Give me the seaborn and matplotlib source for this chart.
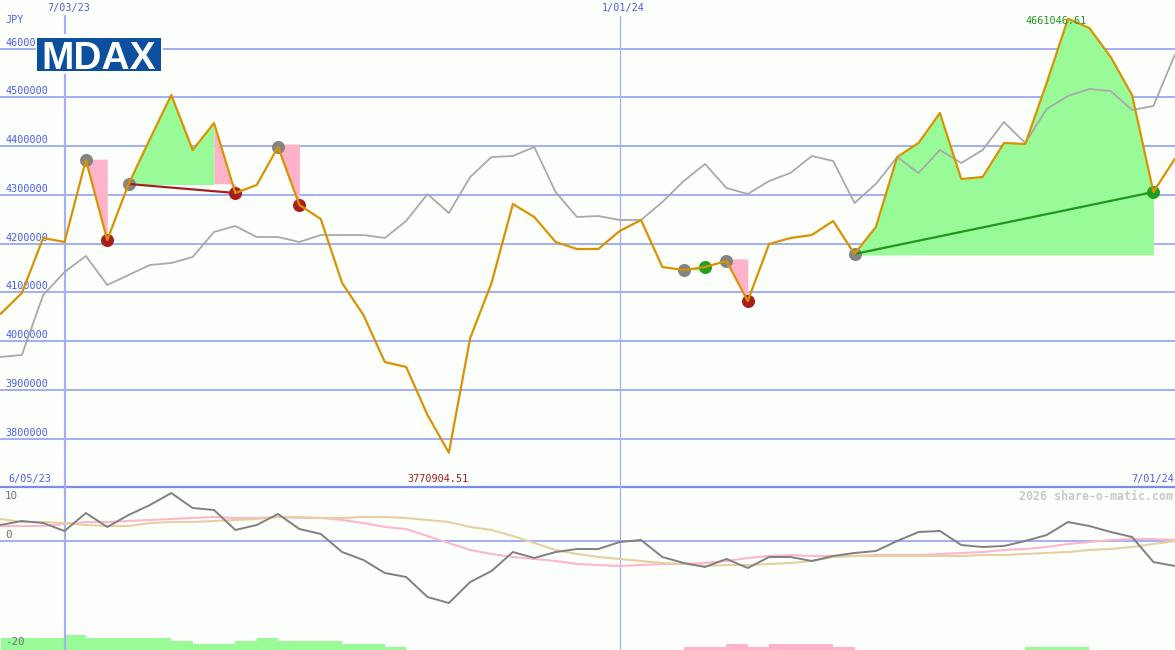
import matplotlib
matplotlib.use("Agg")
import matplotlib.pyplot as plt
import numpy as np
import seaborn as sns

sns.set_style("white")

# weekly closes, in thousands (week 0 is the left edge of the chart)
price = [4055.4, 4098.5, 4211.3, 4203.1, 4371.3, 4207.2, 4322.1, 4414.4, 4504.6, 4391.8,
         4447.2, 4303.6, 4320.0, 4398.0, 4279.0, 4250.3, 4119.0, 4053.3, 3956.9, 3946.7,
         3848.2, 3770.9, 4006.2, 4119.0, 4281.0, 4254.4, 4203.1, 4188.7, 4188.7, 4225.6,
         4248.2, 4151.8, 4145.6, 4151.8, 4164.1, 4082.1, 4199.0, 4211.3, 4217.4, 4246.2,
         4178.5, 4233.8, 4377.4, 4406.2, 4467.7, 4332.3, 4336.4, 4406.2, 4404.1, 4529.2,
         4661.05, 4642.1, 4582.6, 4504.6, 4305.6, 4373.3]
compare = [3967.2, 3971.3, 4094.4, 4141.5, 4174.4, 4114.9, 4135.4, 4155.9, 4160.0, 4172.3,
           4223.6, 4235.9, 4213.3, 4213.3, 4203.1, 4217.4, 4217.4, 4217.4, 4211.3, 4246.2,
           4301.5, 4262.6, 4336.4, 4377.4, 4379.5, 4398.0, 4305.6, 4254.4, 4256.4, 4248.2,
           4248.2, 4285.1, 4328.2, 4363.1, 4313.9, 4301.5, 4328.2, 4344.6, 4379.5, 4369.2,
           4283.1, 4322.1, 4377.4, 4344.6, 4391.8, 4365.1, 4391.8, 4449.2, 4406.2, 4475.9,
           4502.6, 4516.9, 4512.8, 4473.9, 4482.1, 4586.7]

# lower panel
momentum = [2.99, 3.74, 3.36, 1.87, 5.23, 2.62, 4.86, 6.73, 8.97, 6.17,
            5.79, 2.06, 2.99, 5.05, 2.24, 1.31, -2.06, -3.55, -5.98, -6.73,
            -10.47, -11.59, -7.66, -5.61, -2.06, -3.18, -2.06, -1.5, -1.5, -0.19,
            0.19, -2.99, -4.11, -4.86, -3.36, -5.05, -2.99, -2.99, -3.74, -2.80,
            -2.24, -1.87, 0.0, 1.68, 1.87, -0.75, -1.12, -0.93, 0.0, 1.12,
            3.55, 2.80, 1.68, 0.75, -3.93, -4.67]
avg_fast = [2.80, 2.80, 2.80, 3.18, 3.55, 3.55, 3.74, 3.93, 4.11, 4.30,
            4.49, 4.30, 4.30, 4.49, 4.30, 4.30, 3.93, 3.36, 2.62, 2.24,
            0.93, -0.37, -1.68, -2.43, -2.99, -3.36, -3.74, -4.30, -4.49, -4.67,
            -4.49, -4.30, -4.30, -4.11, -3.74, -3.18, -2.80, -2.62, -2.80, -2.80,
            -2.80, -2.62, -2.62, -2.62, -2.43, -2.24, -2.06, -1.68, -1.50, -1.12,
            -0.56, -0.19, 0.19, 0.37, 0.37, 0.19]
avg_slow = [4.11, 3.55, 3.55, 3.36, 2.99, 2.80, 2.80, 3.36, 3.55, 3.55,
            3.74, 3.93, 4.11, 4.49, 4.49, 4.30, 4.30, 4.49, 4.49, 4.30,
            3.93, 3.55, 2.62, 2.06, 0.93, -0.37, -1.68, -2.43, -2.99, -3.36,
            -3.74, -4.11, -4.30, -4.67, -4.49, -4.49, -4.30, -4.11, -3.74, -2.99,
            -2.80, -2.80, -2.80, -2.80, -2.80, -2.80, -2.62, -2.62, -2.43, -2.24,
            -2.06, -1.68, -1.50, -1.12, -0.56, 0.0]
strength = [4, 4, 4, 5, 4, 4, 4, 4, 3, 2, 2, 3, 4, 3, 3, 3, 2, 2, 1, 0,
            0, 0, 0, 0, 0, 0, 0, 0, 0, 0, 0, 0, -1, -1, -2, -1, -2, -2, -2, -1,
            0, 0, 0, 0, 0, 0, 0, 0, 1, 1, 1, 0, 0, 0, 0, 0]

weeks = np.arange(len(price))

price_ticks = [4600, 4500, 4400, 4300, 4200, 4100, 4000, 3900, 3800]
# the top label runs under the logo, only its first digits show
price_labels = ["46000", "4500000", "4400000", "4300000", "4200000",
                "4100000", "4000000", "3900000", "3800000"]
low_ticks = [10, 0, -20]

# (first week, last week, base level) of each shaded move
green_zones = [(6, 10, 4321.0), (32, 33, 4145.6), (40, 54, 4176.5)]
pink_zones = [(4, 5, 4373.0), (10, 11, 4322.5), (13, 14, 4404.0), (34, 35, 4168.5)]
trend_lines = [(6, 11, "#a32020"), (40, 54, "#1f961f")]

start_markers = [4, 6, 13, 32, 34, 40]
loss_markers = [5, 11, 14, 35]
gain_markers = [33, 54]

BG = "#fdfffd"
GRID = "#a3b1f2"
BLUE = "#4a5cf0"
W, H = 1175, 650
SPLIT = 489
mono = "DejaVu Sans Mono"

fig = plt.figure(figsize=(W / 100, H / 100), facecolor=BG)
ax = fig.add_axes([0, 1 - SPLIT / H, 1, SPLIT / H], facecolor=BG)
low = fig.add_axes([0, 0, 1, 1 - SPLIT / H], facecolor=BG)

x_lim = (-0.5 / 21.35, 1174.5 / 21.35)
ax.set_xlim(x_lim)
ax.set_ylim(4699.5 - SPLIT * 2.0513, 4699.5)
low.set_xlim(x_lim)
low.set_ylim((541 - H) / 5.35, (541 - SPLIT) / 5.35)

# signal blocks along the bottom edge, behind everything in the lower panel
hist = low.twinx()
hist.set_ylim(0, H - SPLIT)
hist.bar(weeks, np.abs(strength) * 3, width=1, align="edge",
         color=["#98fb98" if s > 0 else "#ffb3cb" for s in strength], linewidth=0)
hist.set_zorder(0)
low.set_zorder(1)
low.patch.set_visible(False)
hist.patch.set_facecolor(BG)

for a in (ax, low, hist):
    a.set_xticks([])
    a.set_yticks([])
    for s in a.spines.values():
        s.set_visible(False)

for t, txt in zip(price_ticks, price_labels):
    ax.axhline(t, color=GRID, lw=1.45, zorder=1)
    ax.annotate(txt, (5, t), xycoords=("figure pixels", "data"), xytext=(0, 4.3),
                textcoords="offset points", va="center", ha="left", color=BLUE,
                family=mono, fontsize=7.3, zorder=2)
ax.axhline(3700, color="#7a8cf0", lw=1.6, zorder=1)
low.axhline(0, color=GRID, lw=1.45, zorder=1)

# week lines stop short of the date labels at the top
top_gap = 1 - 16 / SPLIT
ax.axvline(3, ymax=top_gap, color=GRID, lw=1.6, zorder=1)
ax.axvline(29, ymax=top_gap, color=GRID, lw=0.9, zorder=1)
low.axvline(3, color=GRID, lw=1.6, zorder=1)
low.axvline(29, color=GRID, lw=0.9, zorder=1)

for first, last, base in green_zones:
    span = weeks[first:last + 1]
    ax.fill_between(span, price[first:last + 1], base, color="#98fb98", lw=0, zorder=2)
for first, last, base in pink_zones:
    span = weeks[first:last + 1]
    ax.fill_between(span, price[first:last + 1], base, color="#ffb3cb", lw=0, zorder=2)

sns.lineplot(x=weeks, y=compare, ax=ax, color="#a9a9a9", linewidth=1.3, zorder=3)

for idx, col in [(start_markers, "#848484"), (loss_markers, "#a81e1e"), (gain_markers, "#22a022")]:
    sns.scatterplot(x=weeks[idx], y=np.array(price)[idx], ax=ax, color=col, s=88,
                    linewidth=0, zorder=4, legend=False)

for first, last, col in trend_lines:
    sns.lineplot(x=[first, last], y=[price[first], price[last]], ax=ax, color=col,
                 linewidth=1.6, zorder=5)

sns.lineplot(x=weeks, y=price, ax=ax, color="#d99300", linewidth=1.6, zorder=6)

sns.lineplot(x=weeks, y=avg_fast, ax=low, color="#ffb6cc", linewidth=1.5, zorder=3)
sns.lineplot(x=weeks, y=avg_slow, ax=low, color="#e6cfa0", linewidth=1.5, zorder=4)
sns.lineplot(x=weeks, y=momentum, ax=low, color="#808080", linewidth=1.4, zorder=5)

for a in (ax, low):
    a.set_xlabel("")
    a.set_ylabel("")
    a.set_xticks([])
    a.set_yticks([])


def label(x, y, text, color=BLUE, size=7.3, weight="normal"):
    fig.text(x / W, 1 - y / H, text, color=color, family=mono, fontsize=size,
             va="center", ha="left", weight=weight, zorder=10)


label(5, 20, "JPY")
label(47, 8, "7/03/23")
label(602, 8, "1/01/24")
label(8, 479, "6/05/23")
label(1131, 479, "7/01/24")
label(407, 479, "3770904.51", color="#a81e1e")
label(1026, 21, "4661046.61", color="#1f961f")
label(1019, 496, "2026 share-o-matic.com", color="#c8c8c8", size=8.4, weight="bold")
for t, y in zip(low_ticks, [496, 535, 642]):
    label(5, y, str(t), color="#707070", size=7.8)

# index logo breaks the gridline and the week line behind it
halo = fig.add_axes([36 / W, 1 - 74 / H, 127 / W, 40 / H], facecolor=BG, zorder=20)
halo.axis("off")
halo.add_patch(plt.Rectangle((0, 0), 1, 1, color=BG, transform=halo.transAxes))
logo = fig.add_axes([37 / W, 1 - 71 / H, 124 / W, 33 / H], facecolor="#0b4f9e", zorder=21)
logo.set_xticks([])
logo.set_yticks([])
for s in logo.spines.values():
    s.set_visible(False)
logo.text(0.5, 0.06, "MDAX", color="white", family="Liberation Sans", weight="bold",
          fontsize=28, ha="center", va="baseline", transform=logo.transAxes)

fig.savefig("out.png", dpi=100, facecolor=BG)
